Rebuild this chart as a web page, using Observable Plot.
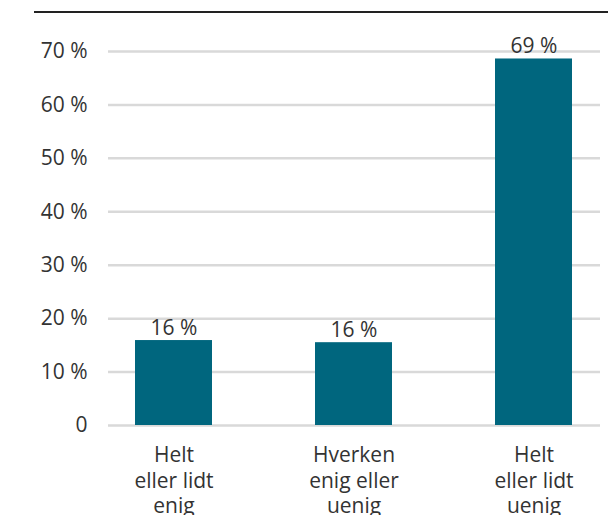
<!DOCTYPE html>
<html>
<head>
<meta charset="utf-8">
<script src="https://cdn.jsdelivr.net/npm/d3@7"></script>
<script src="https://cdn.jsdelivr.net/npm/@observablehq/plot@0.6"></script>
<style>
  html, body { margin: 0; padding: 0; background: #fff; }
  #wrap { position: relative; width: 608px; height: 515px; overflow: hidden; font-family: "Open Sans", sans-serif; }
  #topline { position: absolute; left: 34px; right: 0; top: 11px; height: 0; border-top: 2.5px solid #222; }
</style>
</head>
<body>
<div id="wrap"><div id="topline"></div></div>
<script>
const categories = ["Helt\neller lidt\nenig", "Hverken\nenig eller\nuenig", "Helt\neller lidt\nuenig"];
const values = [15.9, 15.5, 68.6];
const valueLabels = ["16 %", "16 %", "69 %"];
const yTicks = [0, 10, 20, 30, 40, 50, 60, 70];

const data = categories.map((c, i) => ({cat: c, value: values[i], label: valueLabels[i]}));

const chart = Plot.plot({
  width: 608,
  height: 515,
  marginTop: 51,
  marginBottom: 90,
  marginLeft: 108,
  marginRight: 8,
  style: {fontFamily: "'Open Sans', sans-serif", fontSize: "21px", color: "#333", background: "transparent"},
  x: {domain: categories, paddingInner: 0.571, paddingOuter: 0.145, label: null},
  y: {domain: [0, 70], label: null},
  marks: [
    Plot.ruleY(yTicks, {stroke: "#d9d9d9", strokeWidth: 2.5}),
    Plot.barY(data, {x: "cat", y: "value", fill: "#00667e"}),
    Plot.text(data, {x: "cat", y: "value", text: "label", lineAnchor: "bottom", dy: -6, fill: "#333", fontSize: 21}),
    Plot.axisY(yTicks, {tickSize: 0, tickPadding: 21, tickFormat: d => d === 0 ? "0" : d + " %", fontSize: 21, fill: "#333", label: null}),
    Plot.axisX({tickSize: 0, tickPadding: 19, fontSize: 21, fill: "#333", lineHeight: 1.2, label: null})
  ]
});
document.getElementById("wrap").appendChild(chart);
</script>
</body>
</html>
